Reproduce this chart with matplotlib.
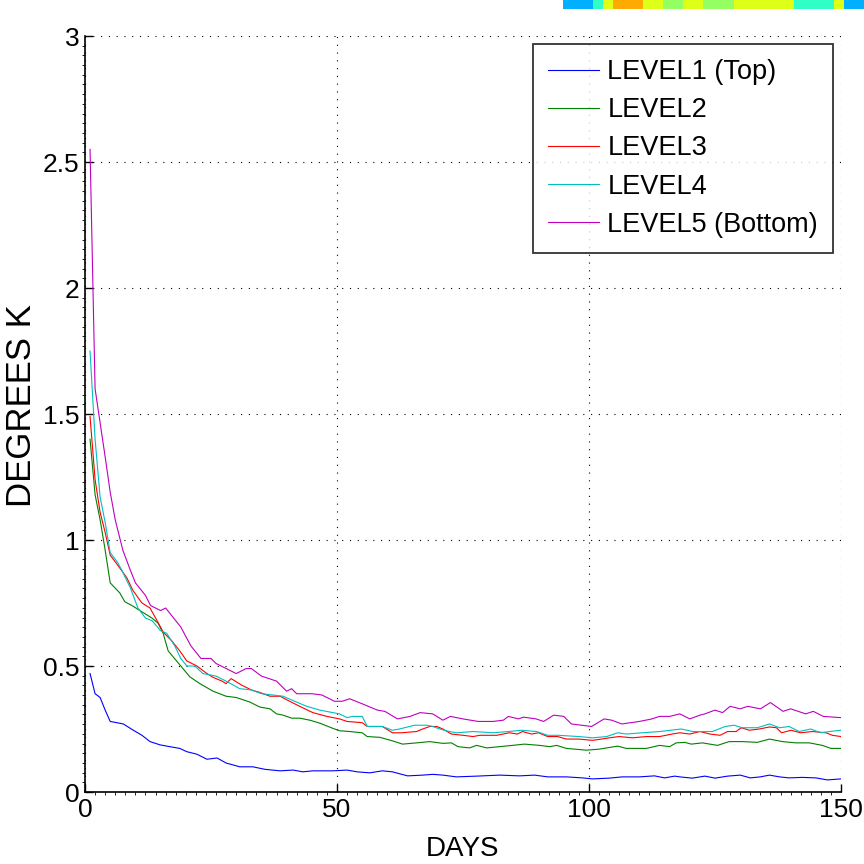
import matplotlib
matplotlib.use('Agg')
import matplotlib.pyplot as plt
from matplotlib.ticker import MultipleLocator, AutoMinorLocator
import numpy as np

plt.rcParams['font.family'] = ['Liberation Sans', 'DejaVu Sans']

# LEVEL1 (Top)
days1 = [1, 2, 3, 4, 5, 7.6, 9.6, 11.3, 12.9, 14.9, 16.8, 18.8, 20.2, 22.2, 24.2, 26.2, 28, 30.7, 33.3, 35.7,
         38.7, 41.3, 43.2, 45.2, 49.2, 52, 54, 56.5, 59, 61, 64, 67, 69, 71, 73.7, 77.7, 82.3, 86.2, 89.2, 91.8,
         95.5, 98.7, 100.7, 104, 106.6, 110, 113, 115, 117, 118, 120.5, 123, 125, 127.5, 130, 132, 134, 135.8,
         137.8, 139.7, 142.3, 145, 147.3, 150]
temp1 = [0.47, 0.39, 0.375, 0.325, 0.28, 0.27, 0.245, 0.225, 0.20, 0.187, 0.18, 0.173, 0.16, 0.15, 0.13, 0.135,
         0.115, 0.10, 0.10, 0.09, 0.084, 0.087, 0.08, 0.084, 0.084, 0.087, 0.08, 0.076, 0.084, 0.08, 0.064, 0.067,
         0.07, 0.067, 0.06, 0.063, 0.067, 0.064, 0.067, 0.06, 0.06, 0.056, 0.052, 0.055, 0.06, 0.06, 0.064, 0.056,
         0.063, 0.06, 0.055, 0.063, 0.055, 0.063, 0.067, 0.056, 0.06, 0.067, 0.06, 0.056, 0.058, 0.056, 0.048, 0.052]

# LEVEL2
days2 = [1, 2, 3, 4, 5, 6.9, 7.9, 9.3, 11.3, 13.3, 14.5, 15.5, 16.5, 18.8, 20.8, 22.8, 25.4, 28, 30, 32.7,
         34.7, 36.7, 38, 39.3, 41, 42.6, 44.6, 46.6, 49, 50.5, 52.5, 55, 56, 58.5, 61, 63, 65.8, 68.4, 71, 72.7,
         74, 76.3, 77.7, 79.7, 82.3, 84.8, 87.2, 90.2, 92.2, 93.6, 95.5, 99.5, 102, 105.7, 107.4, 111.4, 114, 116,
         117.3, 119, 120.3, 122.5, 125.5, 127.8, 130.4, 133.4, 135.8, 138.4, 141, 143.7, 146.3, 148, 150]
temp2 = [1.40, 1.18, 1.08, 0.96, 0.83, 0.79, 0.755, 0.74, 0.715, 0.69, 0.67, 0.63, 0.56, 0.505, 0.457, 0.43,
         0.40, 0.38, 0.375, 0.357, 0.337, 0.33, 0.31, 0.305, 0.293, 0.293, 0.285, 0.273, 0.254, 0.243, 0.24, 0.235,
         0.22, 0.217, 0.203, 0.19, 0.195, 0.20, 0.193, 0.195, 0.18, 0.175, 0.185, 0.175, 0.18, 0.185, 0.19, 0.185,
         0.18, 0.185, 0.173, 0.166, 0.17, 0.182, 0.173, 0.173, 0.185, 0.18, 0.195, 0.197, 0.19, 0.195, 0.185, 0.20,
         0.20, 0.197, 0.21, 0.20, 0.195, 0.195, 0.185, 0.173, 0.173]

# LEVEL3
days3 = [1, 2, 3, 4, 5, 6.5, 8.3, 9.5, 11.3, 12.9, 14.3, 15.5, 17.2, 18.8, 20.2, 22.2, 24.2, 25.4, 27.2, 28,
         29, 31, 33, 34.7, 36.7, 38.7, 40.6, 42.6, 45.2, 48, 50.5, 52, 55, 56, 59, 61, 62.8, 65.8, 67, 68.4,
         69.8, 71, 72.7, 75, 77, 78.3, 81.7, 84.2, 85.8, 86.8, 88.6, 90, 91.8, 93.8, 95.5, 98, 100.7, 102.5, 104,
         106, 108.6, 111.4, 114, 116.5, 118, 120, 122, 124, 126, 127.5, 129.2, 130.2, 131.8, 133.8, 135.8, 137.2,
         138.2, 140.1, 142, 144.3, 147, 148.3, 150]
temp3 = [1.49, 1.24, 1.11, 1.03, 0.94, 0.90, 0.85, 0.80, 0.75, 0.73, 0.68, 0.635, 0.60, 0.56, 0.52, 0.50, 0.47,
         0.455, 0.44, 0.43, 0.45, 0.425, 0.405, 0.395, 0.38, 0.38, 0.36, 0.34, 0.315, 0.30, 0.29, 0.28, 0.275,
         0.26, 0.26, 0.235, 0.235, 0.24, 0.25, 0.26, 0.26, 0.25, 0.23, 0.225, 0.22, 0.225, 0.225, 0.235, 0.23,
         0.24, 0.23, 0.235, 0.22, 0.22, 0.21, 0.21, 0.205, 0.21, 0.215, 0.22, 0.215, 0.22, 0.22, 0.23, 0.235,
         0.23, 0.24, 0.23, 0.225, 0.24, 0.24, 0.255, 0.245, 0.25, 0.258, 0.255, 0.235, 0.245, 0.235, 0.24, 0.235,
         0.225, 0.22]

# LEVEL4
days4 = [1, 2, 3, 4, 5, 6.5, 7.3, 9, 10.5, 12, 13.3, 15, 16.2, 17.8, 19, 20.2, 21.8, 23.4, 26, 28, 30.7, 33,
         35, 37.3, 39.3, 41.6, 44, 46.6, 50.5, 52, 53, 55, 56, 59, 61, 62.4, 65.4, 67.8, 69, 70.4, 72.3, 73.7, 77,
         81, 84, 86.6, 89.6, 91.8, 94, 98, 100.7, 103.5, 105.7, 107.4, 110.6, 114, 118.3, 120.6, 124.5, 127,
         128.8, 130.4, 133.4, 135.8, 137.8, 139.7, 141.7, 144, 146, 147.7, 150]
temp4 = [1.75, 1.40, 1.17, 1.07, 0.95, 0.91, 0.88, 0.81, 0.73, 0.69, 0.68, 0.64, 0.63, 0.58, 0.53, 0.50, 0.50,
         0.47, 0.46, 0.44, 0.41, 0.405, 0.39, 0.385, 0.38, 0.36, 0.34, 0.325, 0.31, 0.295, 0.30, 0.30, 0.26, 0.26,
         0.245, 0.25, 0.265, 0.265, 0.26, 0.25, 0.24, 0.235, 0.24, 0.235, 0.24, 0.245, 0.24, 0.225, 0.225, 0.22,
         0.215, 0.22, 0.235, 0.23, 0.235, 0.24, 0.25, 0.24, 0.24, 0.26, 0.265, 0.255, 0.255, 0.27, 0.255, 0.26,
         0.24, 0.25, 0.235, 0.24, 0.245]

# LEVEL5 (Bottom)
days5 = [1, 2, 4, 5, 6, 7.5, 9, 10, 12, 13, 15, 16, 18, 19, 21, 23, 25, 26, 28, 29, 30, 32, 33, 35, 38, 40, 41,
         42, 45, 47, 49.5, 51, 52.5, 55, 58, 59.5, 62, 64.5, 66.5, 69, 71, 72.5, 75, 78, 81, 83, 84, 86, 87, 89.5,
         91, 93, 95, 96.5, 98.5, 100.5, 103, 104.5, 106.5, 110, 112.5, 114, 116, 118, 120, 122, 123, 125, 126.5,
         128, 130, 131.5, 134, 136, 138.5, 140, 141.5, 143, 144.5, 146.5, 150]
temp5 = [2.55, 1.60, 1.33, 1.19, 1.08, 0.96, 0.88, 0.83, 0.78, 0.74, 0.72, 0.73, 0.68, 0.655, 0.58, 0.53, 0.53,
         0.51, 0.49, 0.48, 0.47, 0.49, 0.49, 0.46, 0.44, 0.40, 0.41, 0.39, 0.39, 0.385, 0.36, 0.36, 0.37, 0.35,
         0.325, 0.32, 0.29, 0.30, 0.315, 0.31, 0.285, 0.30, 0.29, 0.28, 0.28, 0.285, 0.30, 0.29, 0.297, 0.29,
         0.28, 0.305, 0.30, 0.27, 0.265, 0.26, 0.29, 0.285, 0.27, 0.28, 0.29, 0.30, 0.30, 0.31, 0.29, 0.305,
         0.31, 0.325, 0.315, 0.34, 0.33, 0.34, 0.33, 0.355, 0.32, 0.33, 0.32, 0.31, 0.32, 0.30, 0.295]

labels = ['LEVEL1 (Top)', 'LEVEL2', 'LEVEL3', 'LEVEL4', 'LEVEL5 (Bottom)']
# old matlab default color order
colors = [(0, 0, 1), (0, 0.5, 0), (1, 0, 0), (0, 0.75, 0.75), (0.75, 0, 0.75)]

# clipped strip of the neighbouring contour figure at the top edge (jet colormap values)
strip_vals = [0.30, 0.30, 0.30, 0.41, 0.62, 0.73, 0.73, 0.73, 0.62, 0.62, 0.53, 0.53, 0.62, 0.62, 0.53,
              0.53, 0.53, 0.62, 0.62, 0.62, 0.62, 0.62, 0.62, 0.41, 0.41, 0.41, 0.41, 0.62, 0.30, 0.30]

fig = plt.figure(figsize=(8.64, 8.64), dpi=100)
ax = fig.add_axes([85 / 864, 1 - 792 / 864, 756 / 864, 756 / 864])

series = [(days1, temp1), (days2, temp2), (days3, temp3), (days4, temp4), (days5, temp5)]
for (d, t), lab, col in zip(series, labels, colors):
    ax.plot(d, t, color=col, linewidth=0.8, label=lab)

ax.set_xlim(0, 150)
ax.set_ylim(0, 3)
ax.xaxis.set_major_locator(MultipleLocator(50))
ax.xaxis.set_minor_locator(AutoMinorLocator(25))
ax.yaxis.set_minor_locator(AutoMinorLocator(13))
ax.set_yticks(np.arange(0, 3.01, 0.5))
ax.set_yticklabels(['0', '0.5', '1', '1.5', '2', '2.5', '3'])

# dotted grid, also gives the top/right box edges
ax.grid(True, which='major', linestyle=(0, (1, 6)), color='black', linewidth=0.8)
ax.spines['top'].set_visible(False)
ax.spines['right'].set_visible(False)
for s in ['left', 'bottom']:
    ax.spines[s].set_linewidth(1.2)
ax.tick_params(which='major', direction='in', length=6, width=1, labelsize=19, pad=4)
ax.tick_params(which='minor', direction='out', length=2, width=0.6)

# label anchors: top of xlabel, right side of rotated ylabel
ax.set_xlabel('DAYS', fontsize=20)
ax.xaxis.set_label_coords(0.4987, -(836 - 792) / 756)
ax.set_ylabel('DEGREES K', fontsize=25)
ax.yaxis.set_label_coords(-(85 - 38) / 756, (792 - 406) / 756)

leg = ax.legend(loc='upper right', fontsize=19.5, frameon=True, fancybox=False, labelspacing=0.45,
                handlelength=1.9, handletextpad=0.3, borderpad=0.55, borderaxespad=0.3)
leg.get_frame().set_edgecolor('black')
leg.get_frame().set_linewidth(1.3)

strip_ax = fig.add_axes([563 / 864, 1 - 9 / 864, 301 / 864, 9 / 864])
strip_ax.imshow(np.array([strip_vals]), cmap='jet', vmin=0, vmax=1, aspect='auto', interpolation='nearest')
strip_ax.axis('off')

plt.savefig('out.png', dpi=100)
plt.close()
